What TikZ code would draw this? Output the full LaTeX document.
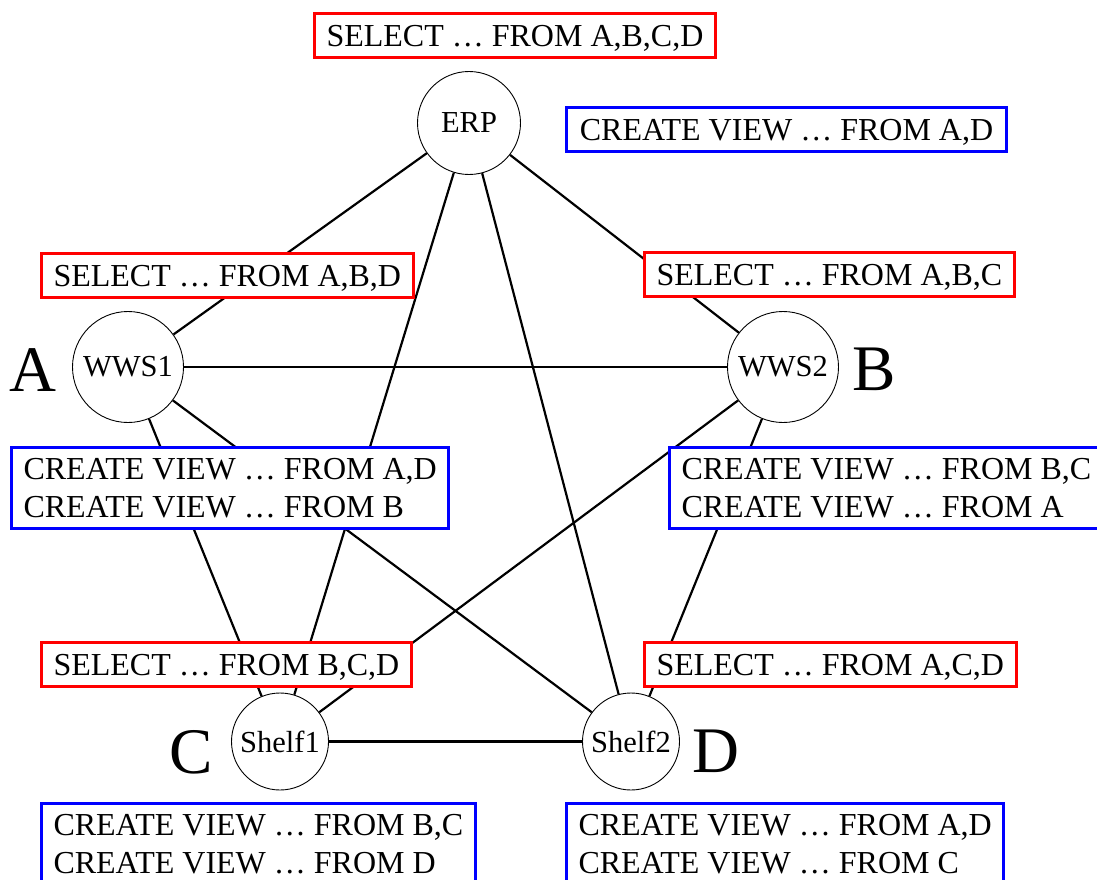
\documentclass[tikz,border=0pt]{standalone}
\usepackage{fontspec}
\setmainfont{Liberation Serif}
\begin{document}
\begin{tikzpicture}[x=1pt,y=-1pt,
  host/.style={circle,draw,line width=0.9pt,fill=white,inner sep=0pt,
    font=\fontsize{30.5}{36}\selectfont},
  link/.style={line width=2.2pt},
  sqlbox/.style={fill=white,line width=3pt,inner xsep=12pt,anchor=north west,
    font=\fontsize{32}{38}\selectfont},
  oneline/.style={sqlbox,inner ysep=6pt,text height=27pt,text depth=5pt},
  twoline/.style={sqlbox,inner ysep=0pt,minimum height=81pt,align=left},
  sel/.style={draw=red},
  view/.style={draw=blue},
  site/.style={font=\fontsize{65}{70}\selectfont,anchor=base,inner sep=0pt}
]
\useasboundingbox (0,0) rectangle (1097,880);

% hosts
\node[host,minimum size=103pt] (erp)    at (469,123)   {ERP};
\node[host,minimum size=111pt] (wws1)   at (128,367)   {WWS1};
\node[host,minimum size=111pt] (wws2)   at (783,367)   {WWS2};
\node[host,minimum size=97pt]  (shelf1) at (280,741.5) {Shelf1};
\node[host,minimum size=97pt]  (shelf2) at (631,741.5) {Shelf2};

% site letters
\node[site] (sa) at (32.5,391) {A};
\node[site] (sb) at (874.5,390) {B};
\node[site] (sc) at (191,773) {C};
\node[site] (sd) at (716,772) {D};

% full mesh of connections
\draw[link] (erp) -- (wws1);
\draw[link] (erp) -- (wws2);
\draw[link] (erp) -- (shelf1);
\draw[link] (erp) -- (shelf2);
\draw[link] (wws1) -- (wws2);
\draw[link] (wws1) -- (shelf1);
\draw[link] (wws1) -- (shelf2);
\draw[link] (wws2) -- (shelf1);
\draw[link] (wws2) -- (shelf2);
\draw[link] (shelf1) -- (shelf2);

% queries and views
\node[oneline,sel,minimum width=400pt] (qerp) at (313,12) {SELECT … FROM A,B,C,D};
\node[oneline,view,minimum width=440pt] (verp) at (565,106) {CREATE VIEW … FROM A,D};

\node[oneline,sel,minimum width=371pt] (qa) at (40,252) {SELECT … FROM A,B,D};
\node[oneline,sel,minimum width=369pt] (qb) at (643,251) {SELECT … FROM A,B,C};
\node[twoline,view] (va) at (10,446) {CREATE VIEW … FROM A,D\\CREATE VIEW … FROM B};
\node[twoline,view] (vb) at (668,446) {CREATE VIEW … FROM B,C\\CREATE VIEW … FROM A};

\node[oneline,sel,minimum width=369pt] (qc) at (40,641) {SELECT … FROM B,C,D};
\node[oneline,sel,minimum width=370pt] (qd) at (643,641) {SELECT … FROM A,C,D};
\node[twoline,view] (vc) at (40,802) {CREATE VIEW … FROM B,C\\CREATE VIEW … FROM D};
\node[twoline,view] (vd) at (565,802) {CREATE VIEW … FROM A,D\\CREATE VIEW … FROM C};
\end{tikzpicture}
\end{document}
